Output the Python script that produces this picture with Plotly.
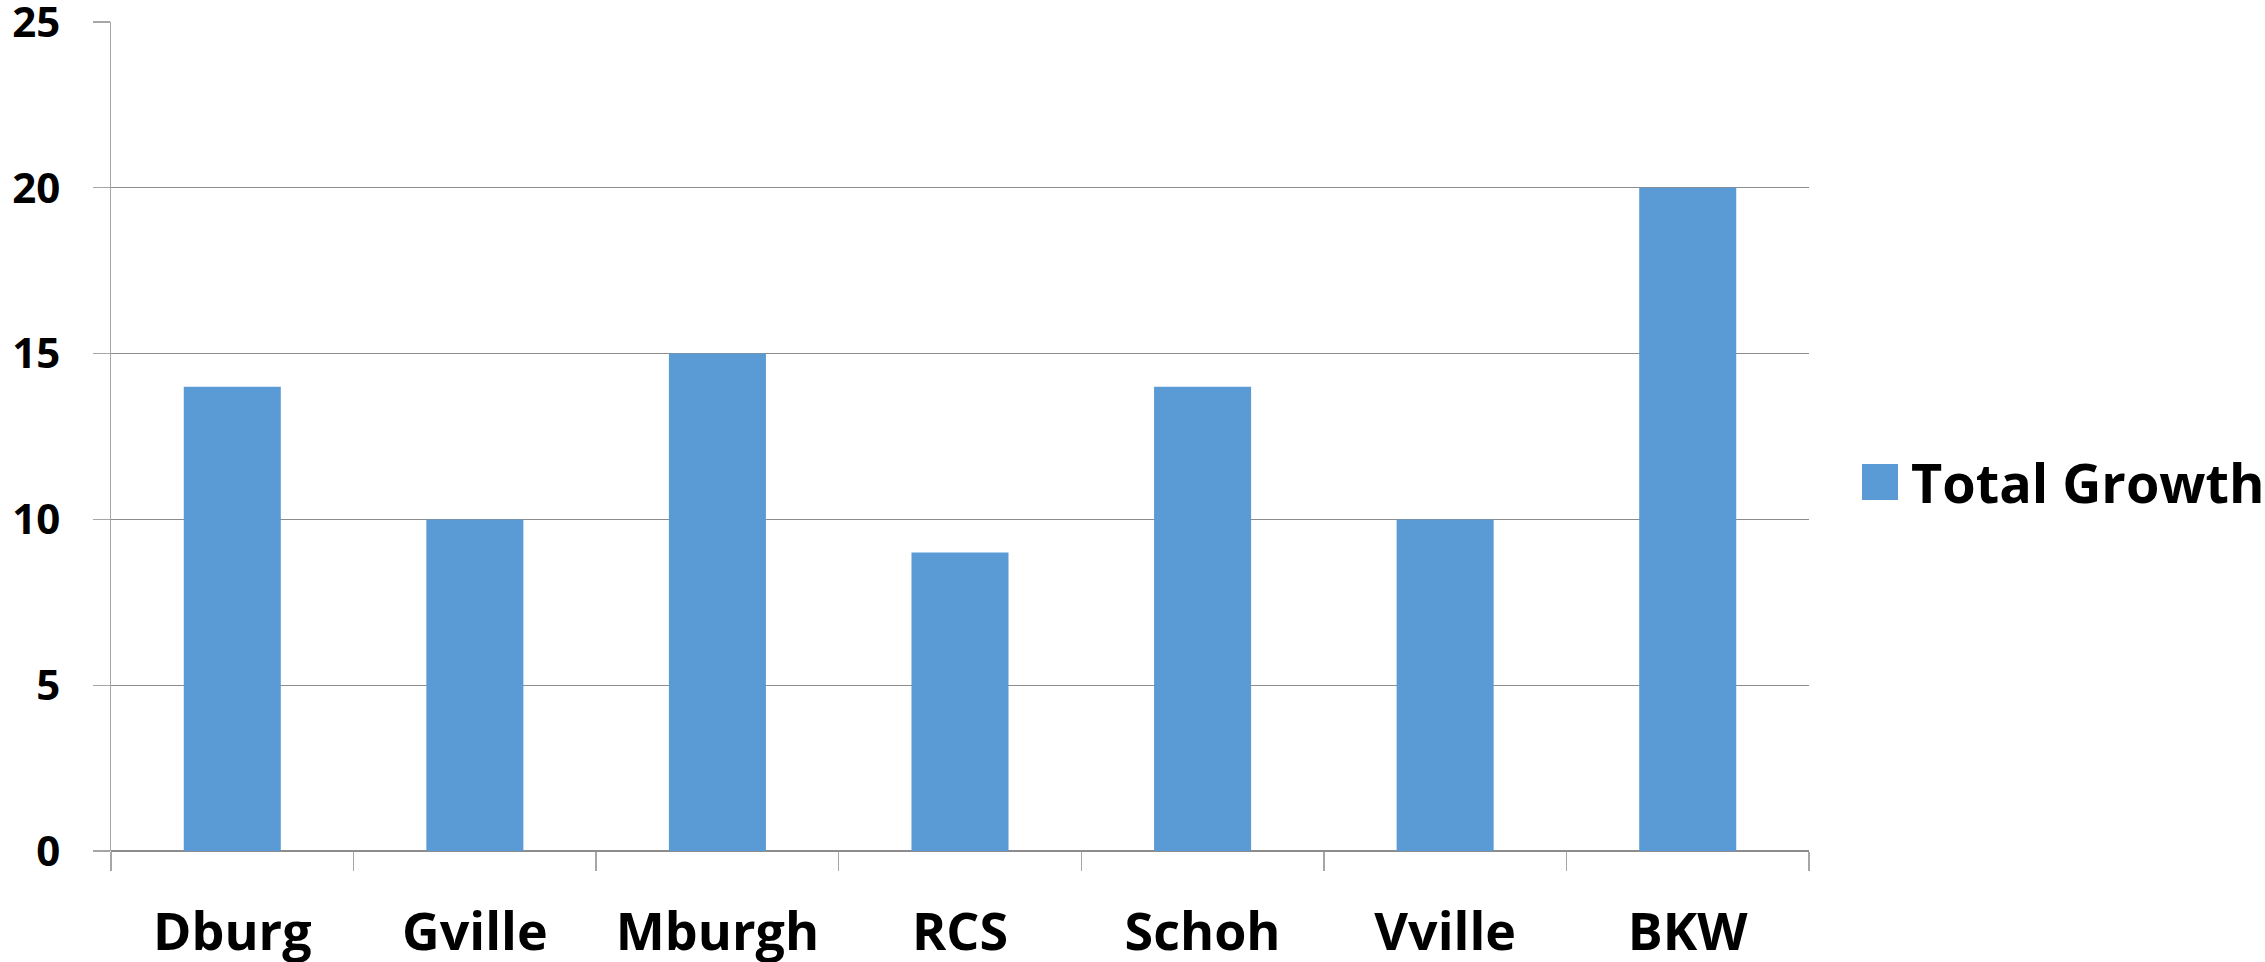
import plotly.graph_objects as go

categories = ["Dburg", "Gville", "Mburgh", "RCS", "Schoh", "Vville", "BKW"]
total_growth = [14, 10, 15, 9, 14, 10, 20]
series_name = "Total Growth"
y_ticks = [0, 5, 10, 15, 20, 25]

BAR = "#5B9BD5"
W, H = 2265, 962
L, R, T, B = 111, 456, 22, 111
pw, ph = W - L - R, H - T - B

def px_x(x):
    return (x - L) / pw

def px_y(y):
    return (H - B - y) / ph

fig = go.Figure()
fig.add_trace(go.Bar(x=categories, y=total_growth, name=series_name,
                     marker=dict(color=BAR, line=dict(width=0)),
                     showlegend=False, cliponaxis=False))

fig.update_layout(
    width=W, height=H,
    margin=dict(l=L, r=R, t=T, b=B, pad=0, autoexpand=False),
    paper_bgcolor="white", plot_bgcolor="white",
    bargap=0.6,
    font=dict(family="Open Sans", color="black", weight="bold"),
    xaxis=dict(
        tickfont=dict(size=52, family="Open Sans", weight="bold"),
        ticks="outside", tickson="boundaries", ticklen=19,
        tickcolor="#a6a6a6", tickwidth=1.3,
        showline=False, showgrid=False, automargin=False,
        ticklabelstandoff=46,
    ),
    yaxis=dict(
        range=[0, 25], tickvals=y_ticks,
        tickfont=dict(size=42, family="Open Sans", weight="bold"),
        ticks="outside", ticklen=17, tickcolor="#a6a6a6", tickwidth=1.3,
        showgrid=True, gridcolor="#8c8c8c", gridwidth=1.3,
        zeroline=True, zerolinecolor="#8c8c8c", zerolinewidth=1.3,
        showline=True, linecolor="#a6a6a6", linewidth=1.3,
        ticklabelstandoff=24, automargin=False,
        ticklabeloverflow="allow",
    ),
)

# legend (drawn manually to match the large symbol)
fig.add_shape(type="rect", xref="paper", yref="paper",
              x0=px_x(1862), x1=px_x(1898), y0=px_y(500), y1=px_y(464),
              fillcolor=BAR, line=dict(width=0))
fig.add_annotation(xref="paper", yref="paper", x=px_x(1909), y=px_y(482),
                   xanchor="left", yanchor="middle", showarrow=False,
                   text=series_name,
                   font=dict(size=54, family="Open Sans", weight="bold", color="black"))

fig.write_html("out.html",
               config={"displayModeBar": False, "staticPlot": True},
               post_script="document.body.style.margin='0';document.body.style.overflow='hidden';")
